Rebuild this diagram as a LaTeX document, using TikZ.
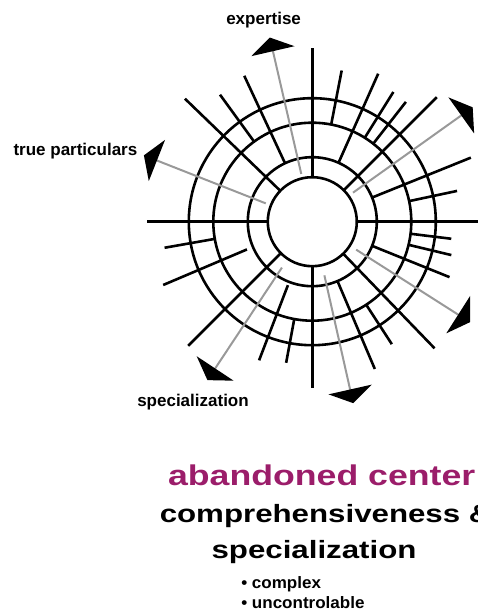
\documentclass[tikz,border=0pt]{standalone}
\usepackage{fontspec}
\usetikzlibrary{arrows.meta}
\newfontfamily\lblfont{Liberation Sans}
\newfontfamily\ttlfont{Liberation Sans}[FakeStretch=1.25]
\newfontfamily\bulfont{Liberation Sans}[FakeStretch=1.03]
\definecolor{titlemagenta}{HTML}{9B1D6A}
\definecolor{arrowgray}{HTML}{999999}
\begin{document}
\begin{tikzpicture}[x=0.75pt,y=0.75pt,
  blk/.style={line width=1.95pt, black},
  grayarrow/.style={line width=1.5pt, arrowgray, -{Triangle[width=33pt,length=10.5pt,color=black]}},
  lbl/.style={inner sep=0pt, anchor=base west, font=\lblfont\bfseries\fontsize{12.75pt}{15pt}\selectfont},
  ttl/.style={inner sep=0pt, anchor=base west, font=\ttlfont\bfseries\fontsize{21.4pt}{25pt}\selectfont, text=titlemagenta},
  sub/.style={inner sep=0pt, anchor=base west, font=\ttlfont\bfseries\fontsize{18.75pt}{22pt}\selectfont},
  bul/.style={inner sep=0pt, anchor=base west, font=\bulfont\bfseries\fontsize{12.4pt}{14pt}\selectfont}
]
\useasboundingbox (-312.3,-392.3) rectangle (165.7,221.7);
% rings
\foreach \r in {44.5,64.5,99,123.5}
  \draw[blk] (0,0) circle[radius=\r];
% spokes: angle / inner radius / outer radius
\foreach \a/\ri/\ro in {
  90/44.5/173.4, 79/99/154, 66/64.5/162, 58/99/153, 52/99/152,
  45/44.5/176, 22/64.5/171, 12/99/148, 0/44.5/170,
  -7/99/140, -13.5/99/143, -22/64.5/148, -46/44.5/176, -57/99/146,
  -67/64.5/160, -90/44.5/166.6, -100.5/99/143.5, -111/68/148.5,
  -135/44.5/175.5, -157/71/162, -170/99/150, 180/44.5/165,
  136/44.5/177, 126/99/157, 115/64.5/161}
  \draw[blk] (\a:\ri) -- (\a:\ro);
% gray arrows
\foreach \a/\rs/\rt [count=\i] in {
  103/49/189, 35.5/50/197, 158.5/50/181, -32.5/52/187, -77.3/55/186, -123.5/55/190}
  {
  \coordinate (s\i) at (\a:\rs);
  \coordinate (t\i) at (\a:\rt);
  \draw[grayarrow] (s\i) -- (t\i);
  }
% labels (x_img - 312.3, 221.7 - baseline_img)
\node[lbl] (expertise) at (-86.3,196.7) {expertise};
\node[lbl] (truepart) at (-299,65.7) {true particulars};
\node[lbl] (special) at (-175.3,-184.3) {specialization};
% bottom text
\node[ttl] (abandoned) at (-144.5,-264) {abandoned center};
\node[sub] (compr) at (-152.8,-301) {comprehensiveness \&};
\node[sub] (spec2) at (-101,-336.8) {specialization};
\node[bul] (b1) at (-71.3,-366.6) {\textbullet\ complex};
\node[bul] (b2) at (-71.3,-386.6) {\textbullet\ uncontrolable};
\end{tikzpicture}
\end{document}
